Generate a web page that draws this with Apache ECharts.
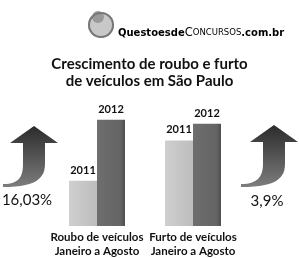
<!DOCTYPE html>
<html><head><meta charset="utf-8">
<script src="https://cdn.jsdelivr.net/npm/echarts@6/dist/echarts.min.js"></script>
<style>html,body{margin:0;padding:0;background:#fff}#c{width:299px;height:258px}</style>
</head><body><div id="c"></div>
<script>
const categories = ['Roubo de veículos\nJaneiro a Agosto', 'Furto de veículos\nJaneiro a Agosto'];
const seriesNames = ['2011', '2012'];
const values2011 = [46, 87];
const values2012 = [108, 104];
const growthLabels = ['16,03%', '3,9%'];

const chart = echarts.init(document.getElementById('c'));
const FONT = 'Lato, "Open Sans", sans-serif';

function bez(p0,p1,p2,p3,n){
  const pts=[];
  for(let i=1;i<=n;i++){const t=i/n,u=1-t;
    pts.push([u*u*u*p0[0]+3*u*u*t*p1[0]+3*u*t*t*p2[0]+t*t*t*p3[0],
              u*u*u*p0[1]+3*u*u*t*p1[1]+3*u*t*t*p2[1]+t*t*t*p3[1]]);}
  return pts;
}
function arrowPts(tipX,tipY,headL,headR,headY,shL,shR,bendY,endX,endY){
  let pts=[[tipX,tipY],[headR,headY],[shR,headY],[shR,bendY]];
  pts=pts.concat(bez([shR,bendY],[shR,bendY+15],[shR-10,endY],[endX,endY],14));
  pts.push([endX,endY-3]);
  pts=pts.concat(bez([endX,endY-3],[endX+15,endY-3],[shL,endY-9],[shL,bendY],14));
  pts.push([shL,headY],[headL,headY]);
  return pts;
}
const arrowFill = {type:'linear',x:0,y:0,x2:0,y2:1,colorStops:[{offset:0,color:'#2b2b2b'},{offset:1,color:'#7d7d7d'}]};

chart.setOption({
  animation:false,
  backgroundColor:'#fff',
  title:{
    text:'Crescimento de roubo e furto\nde veículos em São Paulo',
    left:'center', top:51,
    textStyle:{fontFamily:FONT,fontSize:15,fontWeight:'bold',color:'#111',lineHeight:17}
  },
  grid:{left:49,right:58,top:108,bottom:30},
  xAxis:{type:'category',data:categories,axisLine:{show:false},axisTick:{show:false},
    axisLabel:{interval:0,margin:4,fontFamily:FONT,fontSize:11.5,color:'#111',lineHeight:14,fontWeight:'bold'}},
  yAxis:{type:'value',min:0,max:120,show:false,splitLine:{show:false}},
  series:[
    {name:seriesNames[0],type:'bar',data:values2011,barWidth:28,barGap:'0%',
      itemStyle:{color:{type:'linear',x:0,y:0,x2:1,y2:0,colorStops:[{offset:0,color:'#cfcfcf'},{offset:1,color:'#bdbdbd'}]}},
      label:{show:true,position:'top',formatter:seriesNames[0],distance:5,fontFamily:FONT,fontSize:11,fontWeight:'bold',color:'#111'}},
    {name:seriesNames[1],type:'bar',data:values2012,barWidth:28,
      itemStyle:{color:{type:'linear',x:0,y:0,x2:1,y2:0,colorStops:[{offset:0,color:'#6e6e6e'},{offset:0.85,color:'#646464'},{offset:1,color:'#4e4e4e'}]}},
      label:{show:true,position:'top',formatter:seriesNames[1],distance:5,fontFamily:FONT,fontSize:11,fontWeight:'bold',color:'#111'}}
  ],
  graphic:[
    {type:'polygon',shape:{points:arrowPts(34,126,10,58,143,23,45,164,3,187)},style:{fill:arrowFill}},
    {type:'polygon',shape:{points:arrowPts(274,125,250,298,142,263,285,164,241,187)},style:{fill:arrowFill}},
    {type:'text',x:27,y:200,style:{text:growthLabels[0],font:'15px '+FONT,fill:'#111',align:'center',verticalAlign:'middle'}},
    {type:'text',x:267,y:201,style:{text:growthLabels[1],font:'15px '+FONT,fill:'#111',align:'center',verticalAlign:'middle'}},
    {type:'circle',shape:{cx:101,cy:25,r:13},style:{fill:'#c8c8c8'}},
    {type:'circle',shape:{cx:98,cy:17,r:6},style:{fill:'#9a9a9a'}},
    {type:'circle',shape:{cx:101,cy:25,r:12},style:{fill:'none',stroke:'#777',lineWidth:2}},
    {type:'text',x:118,y:33,style:{
      text:'{a|Questoesde}{b|C}{c|ONCURSOS}{a|.com.br}',
      verticalAlign:'middle',
      rich:{
        a:{fontFamily:'"DejaVu Sans", sans-serif',fontSize:10,fontWeight:'bold',color:'#333'},
        b:{fontFamily:'"DejaVu Sans", sans-serif',fontSize:11.5,color:'#999'},
        c:{fontFamily:'"DejaVu Sans", sans-serif',fontSize:8.5,color:'#999'}
      }}}
  ]
});
</script></body></html>
